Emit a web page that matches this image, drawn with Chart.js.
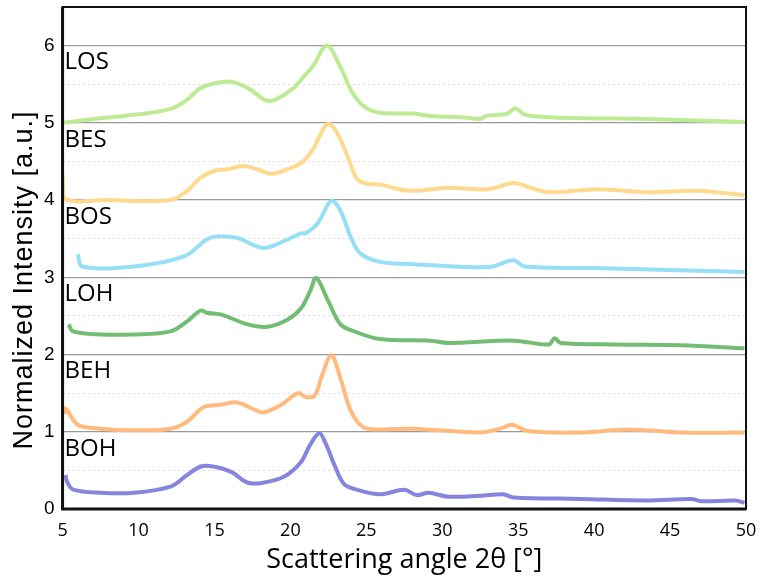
<!DOCTYPE html>
<html>
<head>
<meta charset="utf-8">
<script src="https://cdn.jsdelivr.net/npm/chart.js@4"></script>
<style>
  html, body { margin: 0; padding: 0; background: #fff; }
  #wrap { width: 761px; height: 578px; }
</style>
</head>
<body>
<div id="wrap"><canvas id="graf" width="761" height="578"></canvas></div>
<script>
// values (2theta in degrees, offset normalized intensity)
const losX = [5, 7.5, 10, 12.1, 13.2, 14.1, 15.2, 16.2, 17.2, 18.4, 19.0, 20.2, 20.8, 21.5, 22.4, 23.3, 24.0, 24.8, 25.9, 28.1, 29.2, 31.4, 32.5, 32.9, 34.3, 34.8, 35.4, 36.5, 39.1, 43.5, 49.9];
const losY = [5.0, 5.06, 5.11, 5.18, 5.3, 5.45, 5.52, 5.53, 5.45, 5.29, 5.3, 5.45, 5.58, 5.74, 6.0, 5.72, 5.42, 5.22, 5.13, 5.12, 5.09, 5.07, 5.05, 5.09, 5.12, 5.19, 5.11, 5.08, 5.06, 5.05, 5.01];

const besX = [5, 5.1, 8, 12.1, 13.2, 14.1, 15.0, 15.9, 16.9, 17.8, 18.8, 19.8, 20.7, 21.5, 22.0, 22.5, 23.1, 23.8, 24.4, 25.1, 25.9, 27.9, 30.4, 33.0, 34.7, 35.8, 37.1, 40.2, 43.5, 46.8, 49.9];
const besY = [4.33, 4.02, 4.0, 4.0, 4.12, 4.29, 4.38, 4.4, 4.44, 4.4, 4.34, 4.4, 4.48, 4.66, 4.86, 4.99, 4.86, 4.55, 4.27, 4.21, 4.2, 4.12, 4.16, 4.14, 4.22, 4.16, 4.1, 4.14, 4.1, 4.12, 4.06];

const bosX = [6.0, 6.3, 9.7, 13.0, 14.5, 15.2, 16.5, 18.2, 19.6, 20.7, 21.0, 21.8, 22.7, 23.3, 24.0, 24.6, 25.9, 28.1, 32.1, 33.3, 34.7, 35.4, 40.0, 43.7, 49.9];
const bosY = [3.3, 3.14, 3.14, 3.27, 3.49, 3.53, 3.51, 3.38, 3.47, 3.57, 3.57, 3.7, 3.99, 3.86, 3.51, 3.31, 3.2, 3.17, 3.13, 3.14, 3.22, 3.14, 3.12, 3.1, 3.07];

const lohX = [5.4, 5.7, 7.5, 9.7, 12.1, 13.2, 14.1, 14.5, 15.4, 17.2, 18.5, 19.8, 20.7, 21.3, 21.7, 22.5, 23.3, 24.2, 25.9, 29.2, 30.4, 34.7, 37.0, 37.4, 37.8, 41.3, 45.7, 49.9];
const lohY = [2.39, 2.3, 2.26, 2.26, 2.3, 2.43, 2.57, 2.54, 2.52, 2.39, 2.36, 2.45, 2.6, 2.82, 2.99, 2.69, 2.39, 2.3, 2.2, 2.18, 2.15, 2.18, 2.13, 2.21, 2.15, 2.13, 2.12, 2.08];

const behX = [5.1, 5.2, 6.0, 7.5, 9.7, 12.1, 13.2, 14.3, 15.4, 16.5, 17.6, 18.2, 19.4, 20.5, 21.0, 21.6, 22.1, 22.7, 23.3, 24.0, 24.8, 25.9, 28.1, 32.5, 33.8, 34.6, 35.6, 39.1, 42.3, 45.7, 49.9];
const behY = [1.23, 1.3, 1.09, 1.04, 1.02, 1.04, 1.13, 1.32, 1.35, 1.38, 1.29, 1.25, 1.35, 1.5, 1.45, 1.47, 1.74, 1.99, 1.69, 1.26, 1.06, 1.03, 1.04, 0.99, 1.04, 1.09, 1.01, 0.99, 1.03, 0.99, 0.99];

const bohX = [5.2, 5.3, 5.7, 7.5, 9.7, 12.1, 13.2, 14.1, 14.9, 16.1, 17.2, 18.2, 19.6, 20.7, 21.3, 21.9, 22.3, 22.9, 23.5, 24.2, 25.9, 27.5, 28.3, 29.1, 30.4, 32.5, 34.0, 34.7, 39.1, 43.5, 46.4, 47.1, 49.3, 49.9];
const bohY = [0.44, 0.35, 0.25, 0.21, 0.21, 0.29, 0.44, 0.55, 0.55, 0.48, 0.34, 0.34, 0.42, 0.61, 0.83, 0.98, 0.86, 0.57, 0.33, 0.26, 0.19, 0.25, 0.18, 0.21, 0.16, 0.17, 0.19, 0.15, 0.13, 0.11, 0.13, 0.10, 0.11, 0.08];

const names = ['LOS', 'BES', 'BOS', 'LOH', 'BEH', 'BOH'];
const colors = ['#bdeb94', '#ffda8e', '#96dff7', '#72bd72', '#ffbb7e', '#8585de'];
const labelPos = [5.78, 4.78, 3.78, 2.78, 1.78, 0.78];
const yTitle = 'Normalized Intensity [a.u.]';

function pts(xs, ys) {
    return xs.map((x, i) => ({x: x, y: ys[i]}));
}
const series = [pts(losX, losY), pts(besX, besY), pts(bosX, bosY), pts(lohX, lohY), pts(behX, behY), pts(bohX, bohY)];

const fnt = "'Open Sans', 'Noto Sans', sans-serif";
const fntY = "'Liberation Sans', Arial, sans-serif";

const boxPlugin = {
    id: 'box',
    afterDatasetsDraw(chart) {
        const c = chart.ctx, a = chart.chartArea, ys = chart.scales.y;
        c.save();
        c.fillStyle = '#000';
        c.font = '24px ' + fnt;
        c.textBaseline = 'middle';
        names.forEach((n, i) => {
            c.fillText(n, a.left + 2, ys.getPixelForValue(labelPos[i]));
        });
        c.strokeStyle = '#111';
        c.lineWidth = 2;
        c.strokeRect(a.left, a.top, a.right - a.left, a.bottom - a.top);
        c.lineWidth = 3;
        c.beginPath();
        c.moveTo(a.left, a.top);
        c.lineTo(a.left, a.bottom);
        c.lineTo(a.right, a.bottom);
        c.stroke();
        // y axis title, drawn by hand so it can sit a bit low like the original
        c.translate(32, 280);
        c.rotate(-Math.PI / 2);
        c.font = '27px ' + fntY;
        c.letterSpacing = '1px';
        c.textAlign = 'center';
        c.textBaseline = 'alphabetic';
        c.fillText(yTitle, 0, 0);
        c.restore();
    }
};

document.addEventListener("DOMContentLoaded", ()=>{
    let cont = document.getElementById('graf').getContext('2d');
    let graf = new Chart(cont, {
        type: 'line',
        data: {
            datasets: series.map((d, i) => ({
                label: names[i],
                data: d,
                borderColor: colors[i],
                borderWidth: 4,
                pointRadius: 0,
                tension: 0.35,
                fill: false,
            }))
        },
        options: {
            responsive: false,
            animation: false,
            layout: { padding: { top: 7, right: 15, left: 36, bottom: 1 } },
            plugins: { legend: { display: false }, tooltip: { enabled: false } },
            scales: {
                x: {
                    type: 'linear',
                    min: 5, max: 50,
                    grid: { display: false },
                    border: { display: false },
                    ticks: { stepSize: 5, color: '#000', font: { size: 18, family: fnt }, padding: 3, maxRotation: 0 },
                    title: { display: true, text: 'Scattering angle 2θ [°]', color: '#000', font: { size: 27, family: fnt }, padding: { top: 0, bottom: 0 } }
                },
                y: {
                    min: 0, max: 6.5,
                    afterFit: s => { s.paddingTop = 0; },
                    grid: {
                        drawTicks: false,
                        color: ctx => (ctx.tick && Number.isInteger(ctx.tick.value)) ? '#9a9a9a' : '#dcdcdc',
                        lineWidth: ctx => (ctx.tick && Number.isInteger(ctx.tick.value)) ? 1.3 : 1
                    },
                    border: {
                        display: false,
                        dash: ctx => (ctx.tick && !Number.isInteger(ctx.tick.value)) ? [2, 3] : []
                    },
                    ticks: {
                        stepSize: 0.5,
                        color: '#000',
                        padding: 8,
                        font: { size: 19, family: fntY },
                        callback: v => Number.isInteger(v) ? v : ''
                    },
                    title: { display: false }
                }
            }
        },
        plugins: [boxPlugin]
    });
})
</script>
</body>
</html>
